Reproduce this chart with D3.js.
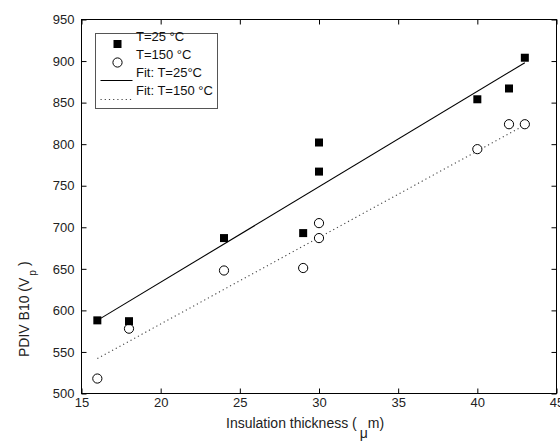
<!DOCTYPE html>
<html>
<head>
<meta charset="utf-8">
<script src="https://cdn.jsdelivr.net/npm/d3@7"></script>
<style>
  body { margin: 0; background: #fff; }
  text { font-family: "Liberation Sans", Arial, sans-serif; }
</style>
</head>
<body>
<div id="wrap"></div>
<script>
// data
const thick25 = [16, 18, 24, 29, 30, 30, 40, 42, 43];
const pdiv25 = [588, 587, 687, 693, 802, 767, 854, 867, 904];
const thick150 = [16, 18, 24, 29, 30, 30, 40, 42, 43];
const pdiv150 = [518, 578, 648, 651, 705, 687, 794, 824, 824];
const fitX = [16, 43];
const fit25 = [588, 898];
const fit150 = [542, 823];
const xTicks = [15, 20, 25, 30, 35, 40, 45];
const yTicks = [500, 550, 600, 650, 700, 750, 800, 850, 900, 950];
const legendLabels = ["T=25 °C", "T=150 °C", "Fit: T=25°C", "Fit: T=150 °C"];

const W = 560, H = 443;
const padL = 81.5, padR = 556.5, padT = 19.5, padB = 393.5;

const svg = d3.select('#wrap').append('svg')
  .attr('width', W).attr('height', H)
  .style('background', '#fff');

const x = d3.scaleLinear().domain([15, 45]).range([padL, padR]);
const y = d3.scaleLinear().domain([500, 950]).range([padB, padT]);

// axes, ticks pointing inward
const axisStyle = g => {
  g.select('.domain').remove();
  g.selectAll('line').attr('stroke', '#000');
  g.selectAll('text').attr('font-size', 13).attr('fill', '#222');
};

svg.append('g')
  .attr('transform', `translate(0,${padB})`)
  .call(d3.axisBottom(x).tickValues(xTicks).tickSize(-5).tickPadding(4))
  .call(axisStyle);
svg.append('g')
  .attr('transform', `translate(${padL},0)`)
  .call(d3.axisLeft(y).tickValues(yTicks).tickSize(-5).tickPadding(7))
  .call(axisStyle);
svg.append('g')
  .attr('transform', `translate(0,${padT})`)
  .call(d3.axisTop(x).tickValues(xTicks).tickSize(-5).tickFormat(''))
  .call(axisStyle);
svg.append('g')
  .attr('transform', `translate(${padR},0)`)
  .call(d3.axisRight(y).tickValues(yTicks).tickSize(-5).tickFormat(''))
  .call(axisStyle);

svg.append('rect')
  .attr('x', padL).attr('y', padT)
  .attr('width', padR - padL).attr('height', padB - padT)
  .attr('fill', 'none').attr('stroke', '#000').attr('stroke-width', 1);

// fit lines
const line = d3.line().x(d => x(d[0])).y(d => y(d[1]));
svg.append('path')
  .attr('d', line(d3.zip(fitX, fit25)))
  .attr('fill', 'none').attr('stroke', '#000').attr('stroke-width', 1.1);
svg.append('path')
  .attr('d', line(d3.zip(fitX, fit150)))
  .attr('fill', 'none').attr('stroke', '#444').attr('stroke-width', 1.1)
  .attr('stroke-dasharray', '1.2,3');

// markers
svg.append('g').selectAll('circle')
  .data(d3.zip(thick150, pdiv150))
  .enter().append('circle')
  .attr('cx', d => x(d[0])).attr('cy', d => y(d[1]))
  .attr('r', 4.6)
  .attr('fill', '#fff').attr('stroke', '#000').attr('stroke-width', 1);

svg.append('g').selectAll('rect')
  .data(d3.zip(thick25, pdiv25))
  .enter().append('rect')
  .attr('x', d => x(d[0]) - 4).attr('y', d => y(d[1]) - 4)
  .attr('width', 8).attr('height', 8)
  .attr('fill', '#000');

// legend
const lg = svg.append('g');
lg.append('rect')
  .attr('x', 95.5).attr('y', 33.5).attr('width', 122).attr('height', 75)
  .attr('fill', '#fff').attr('stroke', '#555').attr('stroke-width', 1);
lg.selectAll('text')
  .data(legendLabels)
  .enter().append('text')
  .attr('x', 136).attr('y', (d, i) => 41 + i * 18)
  .attr('font-size', 13).attr('fill', '#111')
  .text(d => d);
lg.append('rect').attr('x', 113.5).attr('y', 40).attr('width', 8).attr('height', 8).attr('fill', '#000');
lg.append('circle').attr('cx', 117.5).attr('cy', 62.5).attr('r', 4.6)
  .attr('fill', '#fff').attr('stroke', '#000');
lg.append('line').attr('x1', 100.5).attr('x2', 132.5).attr('y1', 80.5).attr('y2', 80.5)
  .attr('stroke', '#000').attr('stroke-width', 1.1);
lg.append('line').attr('x1', 100.5).attr('x2', 132.5).attr('y1', 99.5).attr('y2', 99.5)
  .attr('stroke', '#444').attr('stroke-width', 1.1).attr('stroke-dasharray', '1.2,3');

// axis titles
const xt = svg.append('text')
  .attr('x', 226).attr('y', 428)
  .attr('font-size', 14).attr('fill', '#222');
xt.append('tspan').text('Insulation thickness (');
xt.append('tspan').attr('dy', 10).attr('dx', 3).text('μ');
xt.append('tspan').attr('dy', -10).text('m)');

const yt = svg.append('text')
  .attr('transform', 'translate(29,357) rotate(-90)')
  .attr('font-size', 14).attr('fill', '#222');
yt.append('tspan').text('PDIV B10 (V');
yt.append('tspan').attr('dy', 7).attr('dx', 2).attr('font-size', 10).text('p');
yt.append('tspan').attr('dy', -7).attr('dx', 4).text(')');
</script>
</body>
</html>
